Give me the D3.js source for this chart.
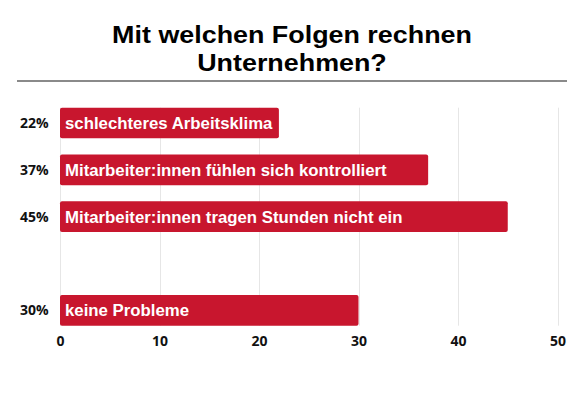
<!DOCTYPE html>
<html>
<head>
<meta charset="utf-8">
<script src="https://cdn.jsdelivr.net/npm/d3@7"></script>
<style>
  body { margin: 0; background: #fff; }
  svg { display: block; }
</style>
</head>
<body>
<div id="graph"></div>
<script>
// chart data
const categories = [
  "schlechteres Arbeitsklima",
  "Mitarbeiter:innen fühlen sich kontrolliert",
  "Mitarbeiter:innen tragen Stunden nicht ein",
  "",
  "keine Probleme"
];
const values = [22, 37, 45, null, 30];
const xTicks = [0, 10, 20, 30, 40, 50];
const titleLines = ["Mit welchen Folgen rechnen", "Unternehmen?"];

const width = 584, height = 398;
const barColor = "#c8162e";

const svg = d3.select("#graph")
  .append("svg")
  .attr("width", width)
  .attr("height", height);

// title (the reference font is a bit wider than Liberation Sans, so stretch it)
svg.append("g")
  .attr("transform", "translate(292,0) scale(1.12,1)")
  .append("text")
  .attr("x", 0)
  .attr("y", 42.7)
  .attr("text-anchor", "middle")
  .style("font-family", "'Liberation Sans', Arial, sans-serif")
  .style("font-weight", "700")
  .style("font-size", "24px")
  .style("fill", "#000")
  .selectAll("tspan")
  .data(titleLines)
  .enter().append("tspan")
    .attr("x", 0)
    .attr("dy", (d, i) => i === 0 ? 0 : 28.3)
    .text(d => d);

// rule under the title
svg.append("line")
  .attr("x1", 17).attr("x2", 567)
  .attr("y1", 81).attr("y2", 81)
  .style("stroke", "#8a8a8a")
  .style("stroke-width", 2);

// scales
const x = d3.scaleLinear()
  .domain([0, 50])
  .range([60, 557.5]);

const y = d3.scaleBand()
  .domain(categories.map((d, i) => i))
  .range([107.7, 325.7])
  .paddingInner(0.345)
  .paddingOuter(0);

// gridlines
svg.append("g")
  .selectAll("line")
  .data(xTicks)
  .enter().append("line")
    .attr("x1", d => Math.round(x(d)) + 0.5)
    .attr("x2", d => Math.round(x(d)) + 0.5)
    .attr("y1", 107.7)
    .attr("y2", 325.7)
    .style("stroke", "#e6e6e6")
    .style("stroke-width", 1);

// x axis
const xAxis = svg.append("g")
  .attr("transform", "translate(0,326)")
  .call(d3.axisBottom(x).tickValues(xTicks).tickSize(0).tickPadding(10));
xAxis.select(".domain").remove();
xAxis.selectAll("text")
  .style("font-family", "'Open Sans', sans-serif")
  .style("font-weight", "700")
  .style("font-size", "14px")
  .style("fill", "#111");

const data = categories.map((c, i) => ({ i: i, label: c, value: values[i] }))
  .filter(d => d.value != null);

// bars
svg.selectAll(".bar")
  .data(data)
  .enter().append("rect")
    .attr("class", "bar")
    .attr("x", x(0))
    .attr("y", d => y(d.i))
    .attr("width", d => x(d.value) - x(0))
    .attr("height", y.bandwidth())
    .attr("rx", 2)
    .style("fill", barColor);

// labels inside the bars
svg.selectAll(".barlabel")
  .data(data)
  .enter().append("text")
    .attr("class", "barlabel")
    .attr("x", x(0) + 5)
    .attr("y", d => y(d.i) + y.bandwidth() / 2)
    .attr("dy", "0.36em")
    .style("font-family", "'Liberation Sans', Arial, sans-serif")
    .style("font-weight", "700")
    .style("font-size", "16.8px")
    .style("fill", "#fff")
    .text(d => d.label);

// percentage labels on the left
svg.selectAll(".pct")
  .data(data)
  .enter().append("text")
    .attr("class", "pct")
    .attr("x", 48.5)
    .attr("y", d => y(d.i) + y.bandwidth() / 2)
    .attr("dy", "0.36em")
    .attr("text-anchor", "end")
    .style("font-family", "'Open Sans', sans-serif")
    .style("font-weight", "700")
    .style("font-size", "14px")
    .style("fill", "#111")
    .text(d => d.value + "%");
</script>
</body>
</html>
